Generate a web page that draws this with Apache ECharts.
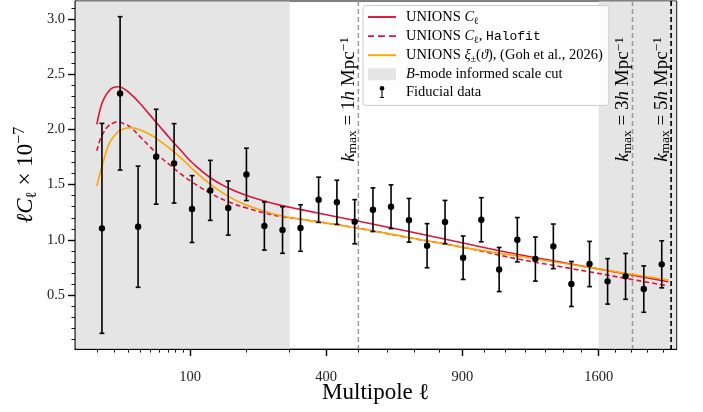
<!DOCTYPE html>
<html><head><meta charset="utf-8">
<script src="https://cdn.jsdelivr.net/npm/echarts@6/dist/echarts.min.js"></script>
<style>html,body{margin:0;padding:0;background:#fff}#c{width:703px;height:412px}</style>
</head><body><div id="c"></div>
<script>
// ---- data (multipole ℓ, ℓC_ℓ × 1e7) ----
const dataEll = [12.5, 23.7, 38.3, 56.5, 78, 103, 132, 164, 200, 239, 282, 328, 378, 432, 488, 549,
  613, 680, 751, 825, 903, 985, 1069, 1158, 1250, 1345, 1444, 1547, 1653, 1762, 1876, 1992];
const dataCl = [1.104, 2.327, 1.119, 1.753, 1.693, 1.279, 1.448, 1.288, 1.593, 1.125, 1.089, 1.107,
  1.363, 1.340, 1.164, 1.273, 1.300, 1.177, 0.947, 1.161, 0.838, 1.182, 0.731, 1.001, 0.826, 0.941,
  0.600, 0.781, 0.624, 0.669, 0.554, 0.778];
const dataErr = [0.951, 0.695, 0.549, 0.430, 0.360, 0.303, 0.272, 0.245, 0.237, 0.218, 0.211, 0.211,
  0.205, 0.200, 0.200, 0.198, 0.198, 0.198, 0.200, 0.196, 0.197, 0.200, 0.200, 0.201, 0.200, 0.202,
  0.204, 0.205, 0.206, 0.208, 0.210, 0.213];

const modelEll = [10, 11.5, 13.2, 16.0, 19.1, 22.4, 26.0, 31.3, 40.1, 49.9, 60.8, 72.8, 85.9, 103,
  131.5, 164.2, 199.1, 238.2, 280.7, 326.7, 489, 680, 903, 1157, 1442, 1759, 2035];
const clUnions = [2.046, 2.176, 2.266, 2.341, 2.381, 2.387, 2.372, 2.327, 2.236, 2.130, 2.024, 1.919,
  1.818, 1.701, 1.565, 1.470, 1.405, 1.353, 1.310, 1.276, 1.175, 1.075, 0.971, 0.870, 0.781, 0.692, 0.620];
const clHalofit = [1.807, 1.904, 1.967, 2.031, 2.058, 2.070, 2.055, 2.024, 1.934, 1.843, 1.753, 1.678,
  1.602, 1.524, 1.424, 1.345, 1.290, 1.245, 1.210, 1.188, 1.110, 1.019, 0.932, 0.828, 0.740, 0.652, 0.582];
const clXi = [1.487, 1.602, 1.705, 1.854, 1.931, 1.981, 2.004, 2.015, 1.995, 1.954, 1.895, 1.827,
  1.750, 1.646, 1.505, 1.394, 1.317, 1.259, 1.216, 1.188, 1.110, 1.021, 0.932, 0.853, 0.776, 0.698, 0.636];

const cutLowEnd = 300;      // ℓ where the low-ℓ scale cut ends
const cutHighStart = 1600;  // ℓ where the high-ℓ scale cut starts
const kmaxEll = [500, 1805, 2054];
const kmaxText = ['1', '3', '5'];

const xTickEll = [100, 400, 900, 1600];
const xMinorEll = [10, 20, 30, 40, 50, 60, 70, 80, 90, 200, 300, 500, 600, 700, 800, 1000, 1100,
  1200, 1300, 1400, 1500, 1700, 1800, 1900, 2000];
const yTicks = [0.5, 1.0, 1.5, 2.0, 2.5, 3.0];
const yMinor = [0.1, 0.2, 0.3, 0.4, 0.6, 0.7, 0.8, 0.9, 1.1, 1.2, 1.3, 1.4, 1.6, 1.7, 1.8, 1.9, 2.1,
  2.2, 2.3, 2.4, 2.6, 2.7, 2.8, 2.9, 3.1];

// ---- axis ranges (x axis is in sqrt(ℓ)) ----
const X_MIN = 1.557, X_MAX = 45.73;
const Y_MIN = 0.010, Y_MAX = 3.164;

const SERIF = 'Liberation Serif';
const RED = '#dc143c', ORANGE = '#ffa500', BAND = '#e5e5e5';

const sq = Math.sqrt;
const toXY = (ells, vals) => ells.map((l, i) => [sq(l), vals[i]]);

const N = {
  c: 'UNIONS C_ell',
  h: 'UNIONS C_ell, Halofit',
  x: 'UNIONS xi_pm',
  b: 'B-mode informed scale cut',
  d: 'Fiducial data'
};
const legendRich = {};
legendRich[N.c] = '{n|UNIONS }{it|C}{sub|ℓ}';
legendRich[N.h] = '{n|UNIONS }{it|C}{sub|ℓ}{n|, }{mono|Halofit}';
legendRich[N.x] = '{n|UNIONS }{it|ξ}{sub|±}{n|(}{it|ϑ}{n|), (Goh et al., 2026)}';
legendRich[N.b] = '{it|B}{n|-mode informed scale cut}';
legendRich[N.d] = '{n|Fiducial data}';

const ICON_SOLID = 'path://M0,0h28v1.9h-28z';
const ICON_DASH = 'path://M0,0h6v1.9h-6z M10,0h7v1.9h-7z M21,0h7v1.9h-7z';
const ICON_ERR = 'path://M2.5,0h6v1.5h-6z M4.7,1.5h1.6v11h-1.6z M2.5,12.5h6v1.5h-6z M5.5,3.4a3.6,3.6 0 1,1 0.001,0z';

const chart = echarts.init(document.getElementById('c'), null, {renderer: 'canvas'});

const option = {
  animation: false,
  grid: {left: 75, right: 26.3, top: 1, bottom: 62.9, show: true, borderColor: '#000', borderWidth: 1,
    outerBoundsMode: 'none', containLabel: false},
  legend: {
    orient: 'vertical', left: 363, top: 5.5,
    padding: [4, 6, 6, 5], itemWidth: 28, itemHeight: 12, itemGap: 2.6,
    backgroundColor: 'rgba(255,255,255,0.85)', borderColor: '#cccccc', borderWidth: 1, borderRadius: 3,
    data: [
      {name: N.c, icon: ICON_SOLID}, {name: N.h, icon: ICON_DASH}, {name: N.x, icon: ICON_SOLID},
      {name: N.b, icon: 'rect'},
      {name: N.d, icon: ICON_ERR}
    ],
    formatter: name => legendRich[name],
    textStyle: {
      fontFamily: SERIF, fontSize: 14.5, color: '#000', padding: [0, 0, 0, 5],
      rich: {
        n: {fontFamily: SERIF, fontSize: 14.5, lineHeight: 18},
        it: {fontFamily: SERIF, fontSize: 14.5, fontStyle: 'italic', lineHeight: 18},
        sub: {fontFamily: SERIF, fontSize: 10, lineHeight: 11, verticalAlign: 'bottom'},
        mono: {fontFamily: 'Liberation Mono', fontSize: 13, lineHeight: 18}
      }
    }
  },
  xAxis: [{
    type: 'value', min: X_MIN, max: X_MAX, position: 'bottom',
    name: '{n|Multipole ℓ}', nameLocation: 'middle', nameGap: 32, nameMoveOverlap: false,
    nameTextStyle: {rich: {n: {fontFamily: SERIF, fontSize: 23, color: '#000'}}},
    axisLine: {show: true, lineStyle: {color: '#000', width: 1}},
    splitLine: {show: false},
    axisTick: {show: true, inside: false, length: 7, lineStyle: {color: '#000', width: 1.4},
      customValues: xTickEll.map(sq)},
    axisLabel: {customValues: xTickEll.map(sq), margin: 21, color: '#222', fontFamily: SERIF, fontSize: 14.5,
      formatter: v => String(Math.round(v * v))}
  }, {
    type: 'value', min: X_MIN, max: X_MAX, position: 'bottom',
    axisLine: {show: false}, splitLine: {show: false}, axisLabel: {show: false},
    axisTick: {show: true, length: 3.5, lineStyle: {color: '#000', width: 0.9},
      customValues: xMinorEll.map(sq)}
  }],
  yAxis: [{
    type: 'value', min: Y_MIN, max: Y_MAX, position: 'left',
    name: '{it|ℓC}{sub|ℓ}{n| × 10}{sup|−7}', nameLocation: 'middle', nameGap: 35, nameRotate: 90,
    nameMoveOverlap: false,
    nameTextStyle: {rich: {
      n: {fontFamily: SERIF, fontSize: 23, color: '#000', lineHeight: 28},
      it: {fontFamily: SERIF, fontSize: 23, color: '#000', fontStyle: 'italic', lineHeight: 28},
      sub: {fontFamily: SERIF, fontSize: 15, color: '#000', lineHeight: 15, verticalAlign: 'bottom'},
      sup: {fontFamily: SERIF, fontSize: 16, color: '#000', lineHeight: 15, verticalAlign: 'top'}
    }},
    axisLine: {show: true, lineStyle: {color: '#000', width: 1}},
    splitLine: {show: false},
    axisTick: {show: true, length: 7, lineStyle: {color: '#000', width: 1.4}, customValues: yTicks},
    axisLabel: {customValues: yTicks, margin: 10, color: '#222', fontFamily: SERIF, fontSize: 14.5,
      formatter: v => v.toFixed(1)}
  }, {
    type: 'value', min: Y_MIN, max: Y_MAX, position: 'left',
    axisLine: {show: false}, splitLine: {show: false}, axisLabel: {show: false},
    axisTick: {show: true, length: 3.5, lineStyle: {color: '#000', width: 0.9}, customValues: yMinor}
  }],
  series: [
    {
      name: N.b, type: 'custom', z: 1, silent: true,
      itemStyle: {color: BAND},
      data: [[X_MIN, sq(cutLowEnd)], [sq(cutHighStart), X_MAX]],
      encode: {x: [0, 1]},
      renderItem: (params, api) => {
        const cs = params.coordSys;
        const a = api.coord([api.value(0), Y_MAX])[0];
        const b = api.coord([api.value(1), Y_MAX])[0];
        const x0 = Math.max(a, cs.x + 0.6), x1 = Math.min(b, cs.x + cs.width - 0.6);
        return {type: 'rect', shape: {x: x0, y: cs.y + 0.6, width: x1 - x0, height: cs.height - 1.2},
          style: {fill: BAND}};
      }
    },
    {
      name: 'kmax', type: 'custom', z: 2, silent: true,
      data: kmaxEll.map((l, i) => [sq(l), i]),
      encode: {x: 0},
      renderItem: (params, api) => {
        const cs = params.coordSys;
        const i = api.value(1);
        const x = api.coord([api.value(0), Y_MAX])[0];
        const col = i === 2 ? '#000' : '#999999';
        return {type: 'group', children: [
          {type: 'line', shape: {x1: x, y1: cs.y, x2: x, y2: cs.y + cs.height},
            style: {stroke: col, lineWidth: i === 2 ? 1.7 : 1.5, lineDash: [5, 3]}},
          {type: 'text', x: x + 1.5, y: cs.y + 36, rotation: Math.PI / 2,
            style: {
              text: '{it|k}{sub|max}{n| = ' + kmaxText[i] + '}{it|h}{n| Mpc}{sup|−1}',
              align: 'right', verticalAlign: 'bottom', fill: '#000',
              font: '19px ' + SERIF,
              rich: {
                n: {fontFamily: SERIF, fontSize: 19, lineHeight: 22, fill: '#000'},
                it: {fontFamily: SERIF, fontSize: 19, fontStyle: 'italic', lineHeight: 22, fill: '#000'},
                sub: {fontFamily: SERIF, fontSize: 13.5, lineHeight: 12, verticalAlign: 'bottom', fill: '#000'},
                sup: {fontFamily: SERIF, fontSize: 13.5, lineHeight: 12, verticalAlign: 'top', fill: '#000'}
              }
            }}
        ]};
      }
    },
    {
      name: N.c, type: 'line', z: 3, symbol: 'none', smooth: 0.5,
      lineStyle: {color: RED, width: 1.6}, itemStyle: {color: RED},
      data: toXY(modelEll, clUnions)
    },
    {
      name: N.h, type: 'line', z: 3, symbol: 'none', smooth: 0.5,
      lineStyle: {color: RED, width: 1.6, type: [5, 3]}, itemStyle: {color: RED},
      data: toXY(modelEll, clHalofit)
    },
    {
      name: N.x, type: 'line', z: 3, symbol: 'none', smooth: 0.5,
      lineStyle: {color: ORANGE, width: 1.6}, itemStyle: {color: ORANGE},
      data: toXY(modelEll, clXi)
    },
    {
      name: N.d, type: 'custom', z: 4, itemStyle: {color: '#000'},
      data: dataEll.map((l, i) => [sq(l), dataCl[i], dataErr[i]]),
      encode: {x: 0, y: 1},
      renderItem: (params, api) => {
        const x = api.value(0), y = api.value(1), e = api.value(2);
        const c = api.coord([x, y]), t = api.coord([x, y + e]), b = api.coord([x, y - e]);
        const cw = 2.4, st = {stroke: '#000', lineWidth: 1.6};
        return {type: 'group', children: [
          {type: 'line', shape: {x1: c[0], y1: t[1], x2: c[0], y2: b[1]}, style: st},
          {type: 'line', shape: {x1: c[0] - cw, y1: t[1], x2: c[0] + cw, y2: t[1]}, style: st},
          {type: 'line', shape: {x1: c[0] - cw, y1: b[1], x2: c[0] + cw, y2: b[1]}, style: st},
          {type: 'circle', shape: {cx: c[0], cy: c[1], r: 3.2}, style: {fill: '#000'}}
        ]};
      }
    }
  ]
};
chart.setOption(option);
</script>
</body></html>
